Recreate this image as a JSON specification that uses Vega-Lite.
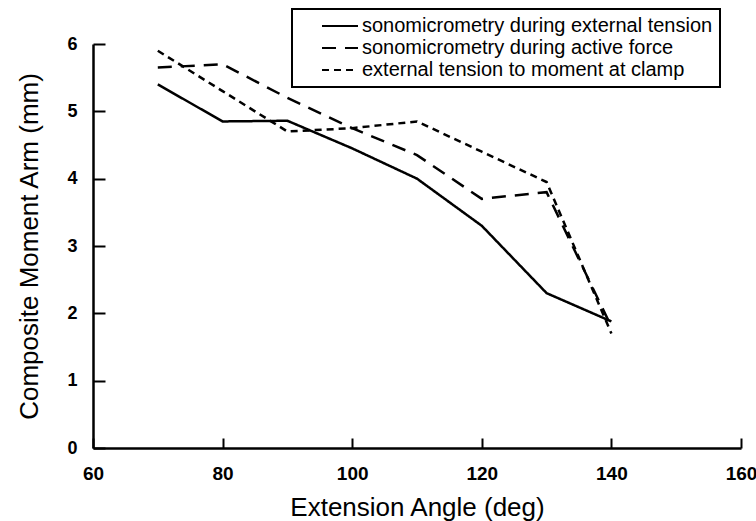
{
  "$schema": "https://vega.github.io/schema/vega-lite/v6.json",
  "width": 648,
  "height": 404,
  "autosize": {"type": "none"},
  "padding": {"left": 93, "top": 44, "right": 15, "bottom": 73},
  "background": "white",
  "config": {
    "view": {"stroke": null},
    "font": "Liberation Sans",
    "axis": {
      "grid": false,
      "domainColor": "black",
      "domainWidth": 2.5,
      "tickColor": "black",
      "tickWidth": 2,
      "labelColor": "black",
      "labelFont": "Liberation Sans",
      "labelFontWeight": "bold",
      "labelFlush": false,
      "labelOverlap": false,
      "titleColor": "black",
      "titleFont": "Liberation Sans",
      "titleFontWeight": "normal",
      "titleFontSize": 26
    },
    "legend": {
      "labelFont": "Liberation Sans",
      "labelFontSize": 20,
      "labelColor": "black"
    }
  },
  "data": {
    "values": [
      {"angle": 70, "arm": 5.4, "series": "sonomicrometry during external tension"},
      {"angle": 80, "arm": 4.85, "series": "sonomicrometry during external tension"},
      {"angle": 90, "arm": 4.86, "series": "sonomicrometry during external tension"},
      {"angle": 100, "arm": 4.45, "series": "sonomicrometry during external tension"},
      {"angle": 110, "arm": 4.0, "series": "sonomicrometry during external tension"},
      {"angle": 120, "arm": 3.3, "series": "sonomicrometry during external tension"},
      {"angle": 130, "arm": 2.3, "series": "sonomicrometry during external tension"},
      {"angle": 140, "arm": 1.88, "series": "sonomicrometry during external tension"},
      {"angle": 70, "arm": 5.65, "series": "sonomicrometry during active force"},
      {"angle": 80, "arm": 5.7, "series": "sonomicrometry during active force"},
      {"angle": 90, "arm": 5.2, "series": "sonomicrometry during active force"},
      {"angle": 100, "arm": 4.75, "series": "sonomicrometry during active force"},
      {"angle": 110, "arm": 4.35, "series": "sonomicrometry during active force"},
      {"angle": 120, "arm": 3.7, "series": "sonomicrometry during active force"},
      {"angle": 130, "arm": 3.8, "series": "sonomicrometry during active force"},
      {"angle": 140, "arm": 1.8, "series": "sonomicrometry during active force"},
      {"angle": 70, "arm": 5.9, "series": "external tension to moment at clamp"},
      {"angle": 80, "arm": 5.3, "series": "external tension to moment at clamp"},
      {"angle": 90, "arm": 4.7, "series": "external tension to moment at clamp"},
      {"angle": 100, "arm": 4.75, "series": "external tension to moment at clamp"},
      {"angle": 110, "arm": 4.85, "series": "external tension to moment at clamp"},
      {"angle": 120, "arm": 4.4, "series": "external tension to moment at clamp"},
      {"angle": 130, "arm": 3.95, "series": "external tension to moment at clamp"},
      {"angle": 140, "arm": 1.7, "series": "external tension to moment at clamp"}
    ]
  },
  "mark": {"type": "line", "color": "black", "strokeWidth": 2.5, "strokeJoin": "miter"},
  "encoding": {
    "x": {
      "field": "angle",
      "type": "quantitative",
      "scale": {"domain": [60, 160], "nice": false, "zero": false},
      "axis": {
        "title": "Extension Angle (deg)",
        "values": [60, 80, 100, 120, 140, 160],
        "labelFontSize": 19,
        "tickSize": -10,
        "labelPadding": 26,
        "titlePadding": 11
      }
    },
    "y": {
      "field": "arm",
      "type": "quantitative",
      "scale": {"domain": [0, 6], "nice": false},
      "axis": {
        "title": "Composite Moment Arm (mm)",
        "values": [0, 1, 2, 3, 4, 5, 6],
        "labelFontSize": 18,
        "tickSize": -12,
        "labelPadding": 28,
        "titlePadding": 24
      }
    },
    "strokeDash": {
      "field": "series",
      "type": "nominal",
      "scale": {
        "domain": [
          "sonomicrometry during external tension",
          "sonomicrometry during active force",
          "external tension to moment at clamp"
        ],
        "range": [[1, 0], [14, 9], [7, 5]]
      },
      "legend": {
        "title": null,
        "orient": "none",
        "legendX": 199,
        "legendY": -35,
        "padding": 7,
        "strokeColor": "black",
        "fillColor": "white",
        "symbolType": "M-2,0H2",
        "symbolSize": 324,
        "symbolStrokeColor": "black",
        "symbolStrokeWidth": 2,
        "symbolOffset": 31,
        "labelOffset": 12,
        "rowPadding": 2,
        "labelLimit": 500,
        "encode": {
          "legend": {"update": {"strokeWidth": {"value": 2}}}
        }
      }
    }
  }
}
